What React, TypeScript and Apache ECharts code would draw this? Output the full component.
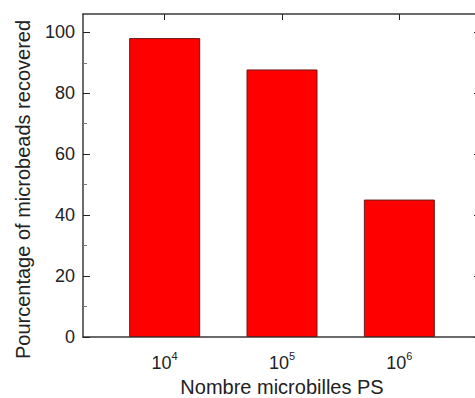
import React, { useEffect, useRef } from "react";
import * as echarts from "echarts";

const exponents = [4, 5, 6];
const percentRecovered = [98.1, 87.8, 45.1];
const yMajorTicks = [0, 20, 40, 60, 80, 100];
const yMinorTicks = [10, 30, 50, 70, 90];
const xAxisTitle = "Nombre microbilles PS";
const yAxisTitle = "Pourcentage of microbeads recovered";

const FONT = "Liberation Sans, Arial, sans-serif";
const X_MIN = 3.304;
const X_MAX = 6.696;
const Y_MIN = 0;
const Y_MAX = 106;

export default function App() {
  const ref = useRef<HTMLDivElement>(null);
  useEffect(() => {
    if (!ref.current) return;
    const chart = echarts.init(ref.current, undefined, { renderer: "svg" });
    const axisLineStyle = { color: "#3a3a3a", width: 1.5 };
    const yAxisBase = (pos: "left" | "right", values: number[], len: number, color: string, showLine: boolean) => ({
      type: "value",
      position: pos,
      min: Y_MIN,
      max: Y_MAX,
      interval: 20,
      axisLine: { show: showLine, onZero: false, lineStyle: axisLineStyle },
      axisTick: { show: true, inside: true, length: len, customValues: values, lineStyle: { color, width: 1 } },
      axisLabel: { show: false },
      splitLine: { show: false },
    });
    chart.setOption({
      animation: false,
      grid: { left: 83, top: 14, right: 0, bottom: 61, containLabel: false, outerBoundsMode: "none" },
      xAxis: [
        {
          type: "value",
          min: X_MIN,
          max: X_MAX,
          position: "bottom",
          name: xAxisTitle,
          nameLocation: "middle",
          nameGap: 40,
          nameTextStyle: { fontFamily: FONT, fontSize: 20, lineHeight: 20, color: "#222" },
          axisLine: { show: true, onZero: false, lineStyle: axisLineStyle },
          axisTick: { show: true, inside: true, length: 6, customValues: exponents, lineStyle: { color: "#222", width: 1 } },
          axisLabel: {
            show: true,
            customValues: exponents,
            margin: 13,
            formatter: (v: number) => `{b|10}{s|${v}}`,
            rich: {
              b: { fontFamily: FONT, fontSize: 18, color: "#222", verticalAlign: "bottom" },
              s: { fontFamily: FONT, fontSize: 11, color: "#222", verticalAlign: "top", padding: [0, 0, 11, 0] },
            },
          },
          splitLine: { show: false },
        },
        {
          type: "value",
          min: X_MIN,
          max: X_MAX,
          position: "top",
          axisLine: { show: true, onZero: false, lineStyle: axisLineStyle },
          axisTick: { show: true, inside: true, length: 6, customValues: exponents, lineStyle: { color: "#222", width: 1 } },
          axisLabel: { show: false },
          splitLine: { show: false },
        },
      ],
      yAxis: [
        {
          ...yAxisBase("left", yMajorTicks, 7, "#222", true),
          name: yAxisTitle,
          nameLocation: "middle",
          nameGap: 50,
          nameRotate: 90,
          nameTextStyle: { fontFamily: FONT, fontSize: 20, color: "#222", padding: [0, 28, 0, 0] },
          axisLabel: {
            show: true,
            customValues: yMajorTicks,
            margin: 8,
            fontFamily: FONT,
            fontSize: 18,
            color: "#222",
          },
        },
        yAxisBase("left", yMinorTicks, 4, "#777", false),
        yAxisBase("right", yMajorTicks, 7, "#222", true),
        yAxisBase("right", yMinorTicks, 4, "#777", false),
      ],
      series: [
        {
          type: "bar",
          xAxisIndex: 0,
          yAxisIndex: 0,
          barWidth: 71,
          data: exponents.map((e, i) => [e, percentRecovered[i]]),
          itemStyle: { color: "#ff0000", borderColor: "#6a1a1a", borderWidth: 1 },
        },
      ],
    });
    return () => chart.dispose();
  }, []);
  return (
    <div style={{ position: "absolute", left: 0, top: 0, width: 475, height: 398, overflow: "hidden" }}>
      <div ref={ref} style={{ width: 481, height: 398 }} />
    </div>
  );
}
